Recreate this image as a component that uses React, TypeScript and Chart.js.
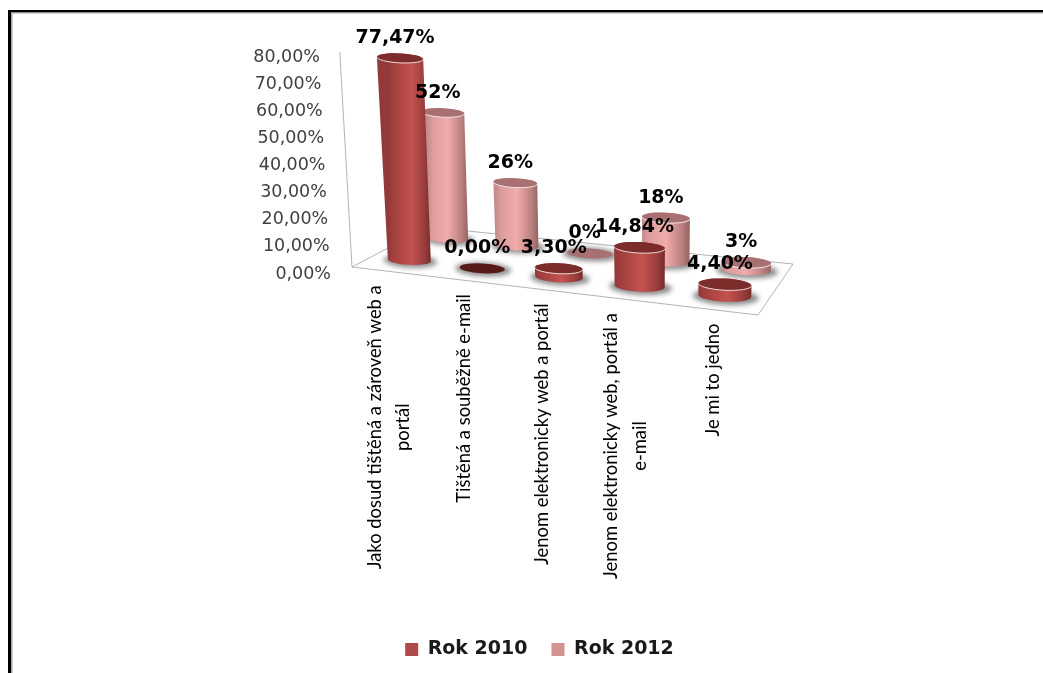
import React, { useEffect, useRef } from "react";
import { Chart, BarController, registerables } from "chart.js";

const categories = [
  ["Jako dosud tištěná a zároveň web a", "portál"],
  ["Tištěná a souběžně e-mail"],
  ["Jenom elektronicky web a portál"],
  ["Jenom elektronicky web, portál a", "e-mail"],
  ["Je mi to jedno"],
];
const rok2010 = [77.47, 0, 3.3, 14.84, 4.4];
const rok2012 = [52, 26, 0, 18, 3];
const decimals = [2, 0];
const yTicks = [0, 10, 20, 30, 40, 50, 60, 70, 80];

// Corners of the receding floor plane.
const FL = [352, 267];
const FR = [758, 315];
const BR = [793, 264];
const BL = [428, 227];

const den = (FR[0] - BR[0]) * (BL[1] - BR[1]) - (BL[0] - BR[0]) * (FR[1] - BR[1]);
const sx = FL[0] - FR[0] + BR[0] - BL[0];
const sy = FL[1] - FR[1] + BR[1] - BL[1];
const hg = (sx * (BL[1] - BR[1]) - (BL[0] - BR[0]) * sy) / den;
const hh = ((FR[0] - BR[0]) * sy - sx * (FR[1] - BR[1])) / den;

/** Maps floor coordinates (u along the categories, t into the depth) to the canvas. */
function floor(u: number, t: number): [number, number] {
  const w = hg * u + hh * t + 1;
  const x = (FR[0] - FL[0] + hg * FR[0]) * u + (BL[0] - FL[0] + hh * BL[0]) * t + FL[0];
  const y = (FR[1] - FL[1] + hg * FR[1]) * u + (BL[1] - FL[1] + hh * BL[1]) * t + FL[1];
  return [x / w, y / w];
}

// Vertical edges converge slowly towards this far point below the floor.
const VX = 660;
const VY = 5707;
function lift(x: number, y: number, h: number): [number, number] {
  return [VX + ((x - VX) * (VY - y + h)) / (VY - y), y - h];
}

const rowDepth = [0.25, 0.78];
const rowHeightScale = [0.97, 0.9];
const barSpan = 0.121;

const palette = [
  {
    side: [
      [0, "#93393a"],
      [0.14, "#a2403e"],
      [0.55, "#c4534f"],
      [0.85, "#993d3b"],
      [1, "#772d2b"],
    ],
    cap: "#7c2d2b",
    zero: "#561a18",
    rim: "#ecd9d8",
    base: "#ae4a48",
  },
  {
    side: [
      [0, "#c58c8b"],
      [0.14, "#dd9d9d"],
      [0.5, "#f1abab"],
      [0.85, "#b87f7e"],
      [1, "#956362"],
    ],
    cap: "#a87070",
    zero: "#a87070",
    rim: "#f4e6e6",
    base: "#d39391",
  },
] as const;

function geometry(chart: any, row: number, i: number) {
  const xs = chart.scales.x;
  const ys = chart.scales.y;
  const u = (xs.getPixelForValue(i) - xs.left) / xs.width;
  const t = rowDepth[row];
  const [fx, by] = floor(u, t);
  const bx = fx + 1.5;
  const left = floor(u - barSpan / 2, t);
  const right = floor(u + barSpan / 2, t);
  const rx = (right[0] - left[0]) / 2;
  const value = chart.data.datasets[row].data[i] as number;
  const h = (ys.getPixelForValue(0) - ys.getPixelForValue(value)) * rowHeightScale[row];
  const [tx, ty] = lift(bx, by, h);
  return { bx, by, tx, ty, rx, ry: rx * 0.22, h, value, u };
}

const TILT = 0.05;

class CylinderController extends BarController {
  static id = "cylinder";

  draw() {
    const chart = this.chart as any;
    const ctx = chart.ctx;
    const row = this.index;
    const colors = palette[row];
    const values = chart.data.datasets[row].data as number[];
    values.forEach((_, i) => {
      const g = geometry(chart, row, i);
      const grow = 1 + g.h / 2600;
      const rxt = g.rx * grow;
      ctx.save();
      if (g.h > 0) {
        const grad = ctx.createLinearGradient(g.bx - g.rx, 0, g.bx + g.rx, 0);
        colors.side.forEach(([stop, c]) => grad.addColorStop(stop, c));
        ctx.fillStyle = grad;
        ctx.beginPath();
        ctx.ellipse(g.bx, g.by, g.rx, g.ry, TILT, 0, Math.PI);
        ctx.ellipse(g.tx, g.ty, rxt, g.ry, TILT, Math.PI, 0);
        ctx.closePath();
        ctx.fill();
      }
      ctx.fillStyle = g.value === 0 ? colors.zero : colors.cap;
      ctx.beginPath();
      ctx.ellipse(g.tx, g.ty, rxt, g.ry, TILT, 0, Math.PI * 2);
      ctx.fill();
      if (g.h > 0) {
        ctx.strokeStyle = colors.rim;
        ctx.lineWidth = 1;
        ctx.beginPath();
        ctx.ellipse(g.tx, g.ty, rxt, g.ry, TILT, 0, Math.PI);
        ctx.stroke();
      }
      ctx.restore();
    });
  }
}

Chart.register(...registerables, CylinderController);

const scene = {
  id: "scene",
  beforeDraw(chart: any) {
    const ctx = chart.ctx;
    ctx.save();
    ctx.fillStyle = "#ffffff";
    ctx.fillRect(0, 0, chart.width, chart.height);
    // Page frame around the chart object.
    ctx.fillStyle = "#000000";
    ctx.fillRect(8, 10, 3, chart.height - 10);
    ctx.fillRect(8, 10, chart.width - 8, 2.5);
    ctx.fillStyle = "#a6a6a6";
    ctx.fillRect(11, 12.5, 1.5, chart.height - 12.5);
    ctx.fillRect(11, 12.5, chart.width - 11, 1);
    ctx.restore();
  },
  beforeDatasetsDraw(chart: any) {
    const ctx = chart.ctx;
    const ys = chart.scales.y;
    ctx.save();
    // Floor outline and the slanted value axis.
    ctx.strokeStyle = "#b4b4b4";
    ctx.lineWidth = 1;
    ctx.beginPath();
    ctx.moveTo(FL[0], FL[1]);
    ctx.lineTo(FR[0], FR[1]);
    ctx.lineTo(BR[0], BR[1]);
    ctx.lineTo(BL[0], BL[1]);
    ctx.closePath();
    const top = lift(FL[0], FL[1], ys.getPixelForValue(0) - ys.getPixelForValue(80));
    ctx.moveTo(FL[0], FL[1]);
    ctx.lineTo(top[0], top[1]);
    ctx.stroke();

    // Tick labels follow the slant of the axis.
    ctx.fillStyle = "#404040";
    ctx.font = '17.5px "DejaVu Sans"';
    ctx.textAlign = "right";
    ctx.textBaseline = "middle";
    yTicks.forEach((v) => {
      const k = v / 80;
      const text = v.toFixed(2).replace(".", ",") + "%";
      ctx.fillText(text, 331 - 11 * k, ys.getPixelForValue(v) + 4 - 2 * k);
    });

    // Soft contact shadows on the floor.
    ctx.filter = "blur(2.5px)";
    ctx.fillStyle = "rgba(115,115,115,0.8)";
    [1, 0].forEach((row) => {
      chart.data.datasets[row].data.forEach((_: number, i: number) => {
        const g = geometry(chart, row, i);
        ctx.beginPath();
        ctx.ellipse(g.bx + 1, g.by + 1, g.rx * 1.25, g.ry * 1.4, TILT, 0, Math.PI * 2);
        ctx.fill();
      });
    });
    ctx.filter = "none";

    // Category labels hang below the front edge of the floor.
    ctx.fillStyle = "#000000";
    ctx.font = "18.4px Lato";
    ctx.textAlign = "center";
    ctx.textBaseline = "middle";
    const xs = chart.scales.x;
    categories.forEach((lines, i) => {
      const u = (xs.getPixelForValue(i) - xs.left) / xs.width;
      const edge = floor(u, 0);
      const longest = Math.max(...lines.map((l) => ctx.measureText(l).width));
      lines.forEach((line, n) => {
        ctx.save();
        const off = (n - (lines.length - 1) / 2) * 28.5;
        ctx.translate(edge[0] + off + 1, edge[1] + 14 + longest / 2);
        ctx.rotate(-Math.PI / 2);
        ctx.fillText(line, 0, 0);
        ctx.restore();
      });
    });
    ctx.restore();
  },
  afterDatasetsDraw(chart: any) {
    const ctx = chart.ctx;
    ctx.save();
    ctx.fillStyle = "#000000";
    ctx.font = 'bold 19px "DejaVu Sans"';
    ctx.textAlign = "center";
    ctx.textBaseline = "middle";
    [1, 0].forEach((row) => {
      chart.data.datasets[row].data.forEach((v: number, i: number) => {
        const g = geometry(chart, row, i);
        const text = v.toFixed(decimals[row]).replace(".", ",") + "%";
        ctx.fillText(text, g.tx - 5, g.ty - 20);
      });
    });
    ctx.restore();
  },
};

export default function App() {
  const ref = useRef<HTMLCanvasElement>(null);
  useEffect(() => {
    document.body.style.margin = "0";
    document.body.style.overflow = "hidden";
    const chart = new Chart(ref.current!, {
      type: "cylinder" as any,
      data: {
        labels: categories.map((c) => c.join(" ")),
        datasets: [
          { label: "Rok 2010", data: rok2010, backgroundColor: palette[0].base, clip: false },
          { label: "Rok 2012", data: rok2012, backgroundColor: palette[1].base, clip: false },
        ],
      },
      options: {
        responsive: false,
        animation: false,
        layout: { padding: { top: 55, left: 36, right: 0, bottom: 4 } },
        scales: {
          x: {
            grid: { display: false },
            border: { display: false },
            ticks: { display: false },
            afterFit(scale: any) {
              scale.height = 346;
            },
          },
          y: {
            min: 0,
            max: 80,
            grid: { display: false },
            border: { display: false },
            ticks: { display: false, stepSize: 10 },
            afterFit(scale: any) {
              scale.width = 316;
            },
          },
        },
        plugins: {
          tooltip: { enabled: false },
          legend: {
            position: "bottom",
            labels: {
              boxWidth: 13,
              boxHeight: 13,
              padding: 24,
              color: "#1a1a1a",
              font: { family: '"DejaVu Sans"', size: 19, weight: "bold" },
            },
          },
        },
      },
      plugins: [scene],
    } as any);
    return () => chart.destroy();
  }, []);
  return <canvas ref={ref} width={1043} height={673} style={{ display: "block" }} />;
}
